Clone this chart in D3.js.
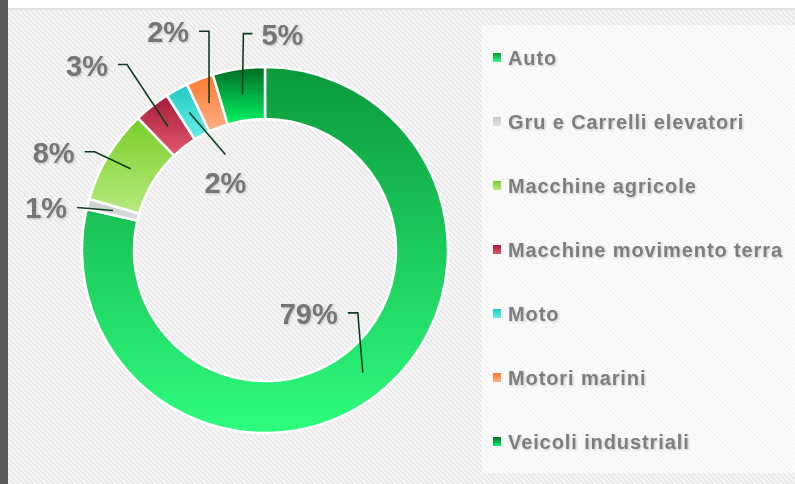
<!DOCTYPE html>
<html>
<head>
<meta charset="utf-8">
<script src="https://cdn.jsdelivr.net/npm/d3@7/dist/d3.min.js"></script>
<style>
  html, body { margin: 0; padding: 0; background: #ffffff; }
  svg { display: block; }
  .pct { font-family: "Liberation Sans", Arial, sans-serif; font-weight: bold; font-size: 29px; fill: #767676; }
  .leg { font-family: "Liberation Sans", Arial, sans-serif; font-weight: bold; font-size: 20px; letter-spacing: 0.9px; fill: #7e7e7e; }
</style>
</head>
<body>
<svg id="chart" width="795" height="484"></svg>
<script>
// ---- data ----
const categories = ["Auto", "Gru e Carrelli elevatori", "Macchine agricole", "Macchine movimento terra", "Moto", "Motori marini", "Veicoli industriali"];
const values = [78.6, 0.9, 8.3, 3.2, 2.0, 2.4, 4.6];
const colorTop = ["#0b993b", "#c6caca", "#7acd28", "#a31b3b", "#1fc9c2", "#ff782c", "#006a24"];
const colorBottom = ["#2efd7e", "#dde0e0", "#b6eb7e", "#e4586f", "#68efe9", "#ffb088", "#00f562"];

// ---- label layout (offsets of leader elbows from slice centroids) ----
const labelLayout = [
  { ex: -5, ey: -60, hx: -10, pos: "left" },
  { ex: -36, ey: -3, hx: 0, pos: "left" },
  { ex: -36, ey: -17, hx: -10, pos: "left" },
  { ex: -41, ey: -62, hx: -9, pos: "left" },
  { ex: 36, ey: 42, hx: 0, pos: "below" },
  { ex: 0, ey: -72, hx: -10, pos: "left" },
  { ex: 1, ey: -61, hx: 9, pos: "right" }
];

const W = 795, H = 484;
const svg = d3.select("#chart");
const defs = svg.append("defs");

// hatch pattern
const pat = defs.append("pattern").attr("id", "hatch").attr("patternUnits", "userSpaceOnUse")
  .attr("width", 5).attr("height", 5);
pat.append("rect").attr("width", 5).attr("height", 5).attr("fill", "#f7f7f7");
pat.append("path").attr("d", "M0,0 L5,5 M-1,4 L1,6 M4,-1 L6,1")
  .attr("stroke", "#e5e5e5").attr("stroke-width", 1.4);

// gradients
categories.forEach((c, i) => {
  const g = defs.append("linearGradient").attr("id", "grad" + i)
    .attr("x1", 0).attr("y1", 0).attr("x2", 0).attr("y2", 1);
  g.append("stop").attr("offset", "0%").attr("stop-color", colorTop[i]);
  g.append("stop").attr("offset", "100%").attr("stop-color", colorBottom[i]);
});

// text shadow filter
const f = defs.append("filter").attr("id", "tshadow").attr("x", "-10%").attr("y", "-20%").attr("width", "130%").attr("height", "150%");
f.append("feDropShadow").attr("dx", 1).attr("dy", 1).attr("stdDeviation", 0.8)
  .attr("flood-color", "#000").attr("flood-opacity", 0.2);

// background
svg.append("rect").attr("x", 0).attr("y", 0).attr("width", W).attr("height", H).attr("fill", "#ffffff");
svg.append("rect").attr("x", 8).attr("y", 10).attr("width", W - 8).attr("height", H - 10).attr("fill", "url(#hatch)");
svg.append("rect").attr("x", 8).attr("y", 8).attr("width", W - 8).attr("height", 2).attr("fill", "#e3e3e3");
svg.append("rect").attr("x", 0).attr("y", 0).attr("width", 8).attr("height", H).attr("fill", "#5b5b5b");
// legend panel
svg.append("rect").attr("x", 482).attr("y", 25).attr("width", W - 482).attr("height", 448)
  .attr("fill", "#ffffff").attr("opacity", 0.6);

// donut
const cx = 265, cy = 250, R = 183, r = 131;
const pie = d3.pie().sort(null).value(d => d).startAngle(0).endAngle(2 * Math.PI);
const arcs = pie(values);
const arc = d3.arc().innerRadius(r).outerRadius(R);
const mid = d3.arc().innerRadius((R + r) / 2).outerRadius((R + r) / 2);

const g = svg.append("g").attr("transform", `translate(${cx},${cy})`);
g.selectAll("path.slice").data(arcs).enter().append("path")
  .attr("class", "slice")
  .attr("d", arc)
  .attr("fill", (d, i) => `url(#grad${i})`)
  .attr("stroke", "#ffffff").attr("stroke-width", 2.5).attr("stroke-linejoin", "round");

// labels and leaders
const fmt = v => Math.round(v) + "%";
arcs.forEach((d, i) => {
  const c = mid.centroid(d);
  const L = labelLayout[i];
  const e = [c[0] + L.ex, c[1] + L.ey];
  const end = [e[0] + L.hx, e[1]];
  g.append("path")
    .attr("d", d3.line()([c, e, end]))
    .attr("fill", "none").attr("stroke", "#0c3f1f").attr("stroke-width", 1.6);
  const t = g.append("text").attr("class", "pct").attr("filter", "url(#tshadow)").text(fmt(values[i]));
  if (L.pos === "left") {
    t.attr("x", end[0] - 10).attr("y", end[1] + 11).attr("text-anchor", "end");
  } else if (L.pos === "right") {
    t.attr("x", end[0] + 9).attr("y", end[1] + 11).attr("text-anchor", "start");
  } else {
    t.attr("x", end[0]).attr("y", end[1] + 39).attr("text-anchor", "middle");
  }
});

// legend
const legY = d3.scalePoint().domain(categories).range([65, 65 + 64 * (categories.length - 1)]);
const leg = svg.append("g");
categories.forEach((c, i) => {
  const y = legY(c);
  leg.append("rect").attr("x", 493).attr("y", y - 12).attr("width", 8).attr("height", 9)
    .attr("fill", `url(#grad${i})`);
  leg.append("text").attr("class", "leg").attr("filter", "url(#tshadow)")
    .attr("x", 508).attr("y", y).text(c);
});
</script>
</body>
</html>
